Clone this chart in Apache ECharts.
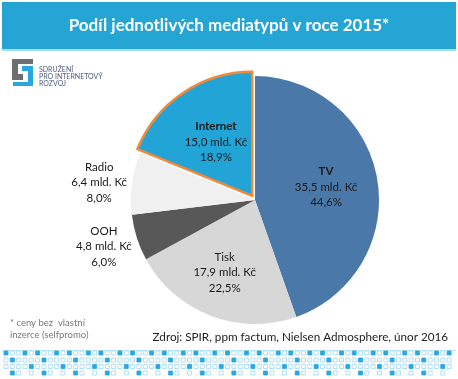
<!DOCTYPE html>
<html><head><meta charset="utf-8">
<script src="https://cdn.jsdelivr.net/npm/echarts@6/dist/echarts.min.js"></script>
<style>html,body{margin:0;padding:0;background:#fff}#c{width:458px;height:379px}</style>
</head><body><div id="c"></div>
<script>
const categories = ['TV', 'Tisk', 'OOH', 'Radio', 'Internet'];
const valuesBn = [35.5, 17.9, 4.8, 6.4, 15.0];
const percents = [44.6, 22.5, 6.0, 8.0, 18.9];
const colors = ['#4a78a8', '#d7d7d7', '#585858', '#f0f0f0', '#22a4d6'];
const titleText = 'Podíl jednotlivých mediatypů v roce 2015*';
const sourceText = 'Zdroj: SPIR, ppm factum, Nielsen Admosphere, únor 2016';
const noteLines = ['* ceny bez  vlastní', 'inzerce (selfpromo)'];
const logoLines = ['SDRUŽENÍ', 'PRO INTERNETOVÝ', 'ROZVOJ'];

const FONT = 'Lato, "Open Sans", sans-serif';
const fmt = v => v.toFixed(1).replace('.', ',');

const labelCfg = {
  TV: {position: 'inside', offset: [7, -2], bold: true},
  Tisk: {position: 'inside', offset: [-7, 12], bold: false},
  OOH: {position: 'outside', offset: [0, 9], bold: false},
  Radio: {position: 'outside', offset: [0, -1], bold: false},
  Internet: {position: 'inside', offset: [-7, -13], bold: true}
};

const data = categories.map((name, i) => {
  const c = labelCfg[name];
  const item = {
    name, value: valuesBn[i],
    itemStyle: {color: colors[i], borderWidth: 0},
    label: {position: c.position, offset: c.offset}
  };
  if (name === 'Internet') {
    item.selected = true;
    item.itemStyle = {color: colors[i], borderColor: '#f0893a', borderWidth: 2.5};
  }
  return item;
});

// decorative footer squares
const deco = [];
deco.push({type: 'rect', shape: {x: 2, y: 350, width: 454, height: 1}, style: {fill: '#c4e6f5'}, silent: true});
const pitch = 6.33, rowsY = [353, 360, 366.5, 373];
for (let r = 0; r < 4; r++) {
  for (let i = 0; i < 72; i++) {
    const m = i % 5;
    if (r === 3 && !(m === 1 || m === 2 || m === 4)) continue;
    let filled = false;
    if (r === 0) filled = (m === 0 || m === 3);
    if (r === 1) filled = (m === 1);
    if (r === 2) filled = (m === 4);
    if (r === 3) filled = (m === 1);
    const cx = 6 + i * pitch;
    if (cx > 454) continue;
    deco.push({type: 'rect', shape: {x: cx - 2, y: rowsY[r] - 2, width: 4, height: 4},
      style: {fill: filled ? '#2aa6e0' : '#fff', stroke: filled ? '#2aa6e0' : '#9fd8f2', lineWidth: 0.8}, silent: true});
  }
}

const chart = echarts.init(document.getElementById('c'), null, {renderer: 'canvas'});
chart.setOption({
  animation: false,
  backgroundColor: '#fff',
  graphic: [
    {type: 'rect', shape: {x: 2, y: 2, width: 454, height: 48}, style: {fill: '#25a5d4'}, z: 0},
    {type: 'rect', shape: {x: 2, y: 49, width: 454, height: 2}, style: {fill: '#a6dcf0'}, z: 0},
    {type: 'text', x: 229, y: 26, style: {text: titleText, fill: '#fff', font: 'bold 17px ' + FONT, align: 'center', verticalAlign: 'middle'}, z: 2},
    // logo
    {type: 'polygon', shape: {points: [[12,59],[33,59],[33,64],[18,64],[18,74],[23,74],[23,80],[12,80]]}, style: {fill: '#6d6e71'}, z: 2},
    {type: 'polygon', shape: {points: [[22,66],[33,66],[33,86],[13,86],[13,82],[28,82],[28,71],[22,71]]}, style: {fill: '#2aa6e0'}, z: 2},
    {type: 'text', x: 39, y: 70, style: {text: logoLines[0], fill: '#4c5c7c', font: '7px ' + FONT, verticalAlign: 'middle'}},
    {type: 'text', x: 39, y: 77, style: {text: logoLines[1], fill: '#4c5c7c', font: '7px ' + FONT, verticalAlign: 'middle'}},
    {type: 'text', x: 39, y: 84, style: {text: logoLines[2], fill: '#4c5c7c', font: '7px ' + FONT, verticalAlign: 'middle'}},
    // notes
    {type: 'text', x: 10, y: 323, style: {text: noteLines[0], fill: '#7a7a7a', font: '9.5px ' + FONT, verticalAlign: 'middle'}},
    {type: 'text', x: 10, y: 335, style: {text: noteLines[1], fill: '#7a7a7a', font: '9.5px ' + FONT, verticalAlign: 'middle'}},
    {type: 'text', x: 448, y: 337, style: {text: sourceText, fill: '#222', font: '11.7px ' + FONT, align: 'right', verticalAlign: 'middle'}}
  ].concat(deco),
  series: [{
    type: 'pie',
    center: [255, 200],
    radius: [0, 124],
    startAngle: 90,
    clockwise: true,
    selectedMode: 'single',
    selectedOffset: 5,
    emphasis: {disabled: true},
    avoidLabelOverlap: false,
    labelLine: {show: false, length: 0, length2: 0},
    label: {
      show: true,
      distanceToLabelLine: 5,
      formatter: p => {
        const i = p.dataIndex;
        const nm = labelCfg[p.name].bold ? 'b' : 'n';
        return '{' + nm + '|' + p.name + '}\n{v|' + fmt(valuesBn[i]) + ' mld. Kč}\n{v|' + fmt(percents[i]) + '%}';
      },
      rich: {
        b: {fontFamily: FONT, fontSize: 11.5, fontWeight: 'bold', color: '#1a1a1a', align: 'center', lineHeight: 15.5},
        n: {fontFamily: FONT, fontSize: 11.5, color: '#1a1a1a', align: 'center', lineHeight: 15.5},
        v: {fontFamily: FONT, fontSize: 11.5, color: '#1a1a1a', align: 'center', lineHeight: 15.5}
      }
    },
    data
  }]
});
</script></body></html>
